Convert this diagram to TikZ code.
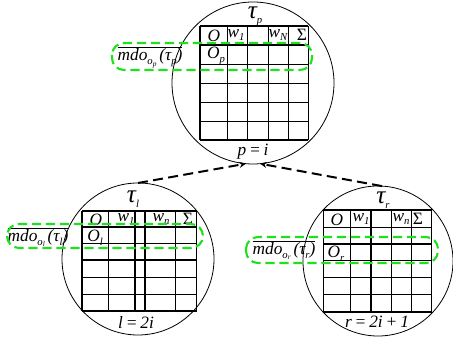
\documentclass[tikz,border=0pt]{standalone}
\usepackage{fontspec}
\setmainfont{Liberation Serif}
\usetikzlibrary{arrows.meta}
\definecolor{markgreen}{RGB}{30,225,30}
% small italic subscripts set in text mode
\newcommand{\lo}[1]{\raisebox{-0.45ex}{\fontsize{8}{8}\selectfont\itshape #1}}
\newcommand{\llo}[1]{\raisebox{-0.35ex}{\fontsize{5.5}{5.5}\selectfont\itshape #1}}
\newcommand{\mdolabel}[1]{$\overline{\hbox{\itshape mdo\lo{o\llo{#1}}\,(τ\lo{#1})}}$}
\begin{document}
\begin{tikzpicture}[x=0.75pt,y=-0.75pt,
  subtree/.style={circle,draw,line width=0.6pt,inner sep=0pt,outer sep=0pt},
  cell/.style={line width=0.8pt},
  base/.style={line width=1.6pt},
  txt/.style={inner sep=0pt,font=\fontsize{13}{15}\selectfont\itshape},
  big/.style={inner sep=0pt,font=\fontsize{19}{20}\selectfont\itshape},
  conn/.style={line width=1.5pt,dash pattern=on 7.5pt off 4pt,-{Stealth[length=5pt,width=4.5pt]}},
  rowmark/.style={draw=markgreen,line width=1.6pt,dash pattern=on 7pt off 3.5pt,rounded corners=9pt}]
\useasboundingbox (0,0) rectangle (453,341);

% the three subtrees
\node[subtree,minimum size=121.5pt] (tp) at (253,83) {};
\node[subtree,minimum size=114pt] (tl) at (138,259) {};
\node[subtree,minimum size=112.5pt] (tr) at (378,261) {};

% children point to the parent
\draw[conn] (tl.north) -- (tp.265);
\draw[conn] (tr.87) -- (tp.275);

% parent table
\foreach \x in {200,227.7,247.7,268.3,288.3,308.3} \draw[cell] (\x,26) -- (\x,140);
\foreach \y in {26,45,64.3,83.3,102.7,121.7} \draw[cell] (200,\y) -- (308.3,\y);
\draw[base] (200,140) -- (308.3,140);

% left table
\foreach \x in {82,108.3,135,145,175.7,196.7} \draw[cell] (\x,211) -- (\x,310.7);
\foreach \y in {211,227,243.3,260,277.3,294.3} \draw[cell] (82,\y) -- (196.7,\y);
\draw[base] (82,310.7) -- (196.7,310.7);

% right table
\foreach \x in {323.3,350.7,371,391.7,411.7,431.7} \draw[cell] (\x,210) -- (\x,311.7);
\foreach \y in {210,227.3,244,260.7,277.7,294.3} \draw[cell] (323.3,\y) -- (431.7,\y);
\draw[base] (323.3,311.7) -- (431.7,311.7);

% titles and indices
\node[big] (ttp) at (255,16) {τ\lo{p}};
\node[big] (ttl) at (133,199) {τ\lo{l}};
\node[big] (ttr) at (383,200) {τ\lo{r}};
\node[txt] (ip) at (253,152) {p\,=\,i};
\node[txt] (il) at (136,322) {l\,=\,2i};
\node[txt] (ir) at (377,322) {r\,=\,2i\,+\,1};

% header rows
\node[txt] (hp1) at (214,36) {O};
\node[txt] (hp2) at (236,35) {w\lo{1}};
\node[txt] (hp3) at (278,35) {w\lo{N}};
\node[txt] (hp4) at (302,35) {\upshape Σ};
\node[txt] (hl1) at (96,219.5) {O};
\node[txt] (hl2) at (126,219) {w\lo{1}};
\node[txt] (hl3) at (161,219) {w\lo{n}};
\node[txt] (hl4) at (188,219) {\upshape Σ};
\node[txt] (hr1) at (337,219.5) {O};
\node[txt] (hr2) at (361,219) {w\lo{1}};
\node[txt] (hr3) at (401,219) {w\lo{n}};
\node[txt] (hr4) at (418,219) {\upshape Σ};

% selected rows
\node[txt] (op) at (216,56) {O\lo{p}};
\node[txt] (ol) at (95,237.5) {O\lo{l}};
\node[txt] (or) at (336,254) {O\lo{r}};

% marginal labels
\node[txt,font=\fontsize{13}{15}\selectfont] (mp) at (150,57) {\mdolabel{p}};
\node[txt,font=\fontsize{13}{15}\selectfont] (ml) at (38,237) {\mdolabel{l}};
\node[txt,font=\fontsize{13}{15}\selectfont] (mr) at (284,250) {\mdolabel{r}};

% highlighted rows
\draw[rowmark] (112,43) rectangle (312,70);
\draw[rowmark] (7,224) rectangle (203,248);
\draw[rowmark] (246,237) rectangle (438,263);
\end{tikzpicture}
\end{document}
